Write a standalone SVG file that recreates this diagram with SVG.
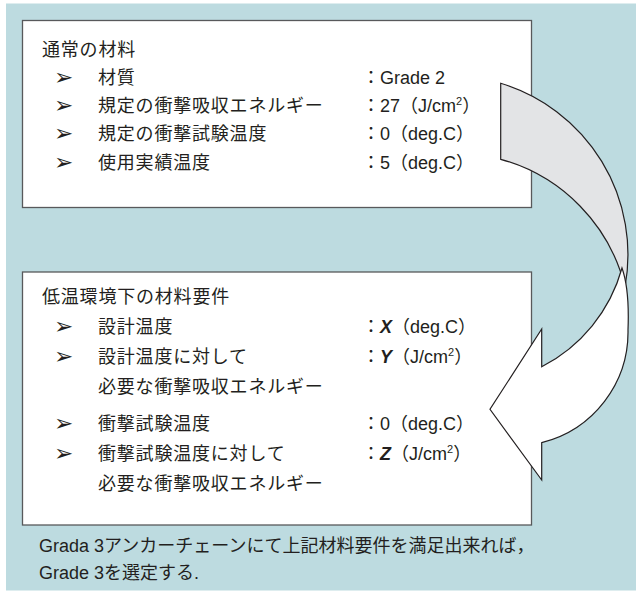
<svg xmlns="http://www.w3.org/2000/svg" width="636" height="591" viewBox="0 0 636 591">
  <style>
    .t { font-family: "Liberation Sans", "Noto Sans CJK JP", sans-serif; font-size: 18px; fill: #231f20; }
    .j { letter-spacing: 0.8px; }
    .b { font-family: "DejaVu Sans", sans-serif; font-size: 23px; fill: #231f20; }
    .box { fill: #ffffff; stroke: #58595b; stroke-width: 1.3; }
    .bi { font-weight: bold; font-style: italic; }
  </style>
  <rect id="background" x="6" y="3.5" width="630" height="587" fill="#bddbe0"/>

  <g id="box-normal">
    <rect class="box" x="22.5" y="20.5" width="509" height="187"/>
    <text class="t j" x="42" y="56">通常の材料</text>
    <text class="b" x="54" y="85">➢</text>
    <text class="t j" x="98" y="84">材質</text>
    <text class="t" x="362" y="84">：Grade 2</text>
    <text class="b" x="54" y="113">➢</text>
    <text class="t j" x="98" y="112">規定の衝撃吸収エネルギー</text>
    <text class="t" x="362" y="112">：27（J/cm<tspan font-size="11" dy="-7">2</tspan><tspan dy="7">）</tspan></text>
    <text class="b" x="54" y="141">➢</text>
    <text class="t j" x="98" y="140">規定の衝撃試験温度</text>
    <text class="t" x="362" y="140">：0（deg.C）</text>
    <text class="b" x="54" y="170">➢</text>
    <text class="t j" x="98" y="169">使用実績温度</text>
    <text class="t" x="362" y="169">：5（deg.C）</text>
  </g>

  <g id="box-lowtemp">
    <rect class="box" x="22.5" y="272" width="509" height="253"/>
    <text class="t j" x="42" y="303">低温環境下の材料要件</text>
    <text class="b" x="54" y="334">➢</text>
    <text class="t j" x="98" y="333">設計温度</text>
    <text class="t" x="362" y="333">：<tspan class="bi">X</tspan>（deg.C）</text>
    <text class="b" x="54" y="364">➢</text>
    <text class="t j" x="98" y="363">設計温度に対して</text>
    <text class="t" x="362" y="363">：<tspan class="bi">Y</tspan>（J/cm<tspan font-size="11" dy="-7">2</tspan><tspan dy="7">）</tspan></text>
    <text class="t j" x="98" y="393">必要な衝撃吸収エネルギー</text>
    <text class="b" x="54" y="431">➢</text>
    <text class="t j" x="98" y="430">衝撃試験温度</text>
    <text class="t" x="362" y="430">：0（deg.C）</text>
    <text class="b" x="54" y="461">➢</text>
    <text class="t j" x="98" y="460">衝撃試験温度に対して</text>
    <text class="t" x="362" y="460">：<tspan class="bi">Z</tspan>（J/cm<tspan font-size="11" dy="-7">2</tspan><tspan dy="7">）</tspan></text>
    <text class="t j" x="98" y="490">必要な衝撃吸収エネルギー</text>
  </g>

  <g id="connectors" stroke="#231f20" stroke-width="1.2" stroke-linejoin="miter">
    <path id="arrow-back" fill="#e3e4e6" d="M500.7,83.3 A179,179 0 0 1 625,287 A176,176 0 0 0 500.7,159.3 Z"/>
    <path id="arrow-front" fill="#ffffff" d="M622,268 C628,285 629,305 628,330 A114,114 0 0 1 541.7,442.7 L541.7,480 L490,409.3 L541.7,329 L541.7,366.7 A158.4,158.4 0 0 0 622,268 Z"/>
  </g>

  <g id="footer">
    <text class="t" x="39" y="552">Grada 3アンカーチェーンにて上記材料要件を満足出来れば，</text>
    <text class="t" x="39" y="579">Grade 3を選定する.</text>
  </g>
</svg>
